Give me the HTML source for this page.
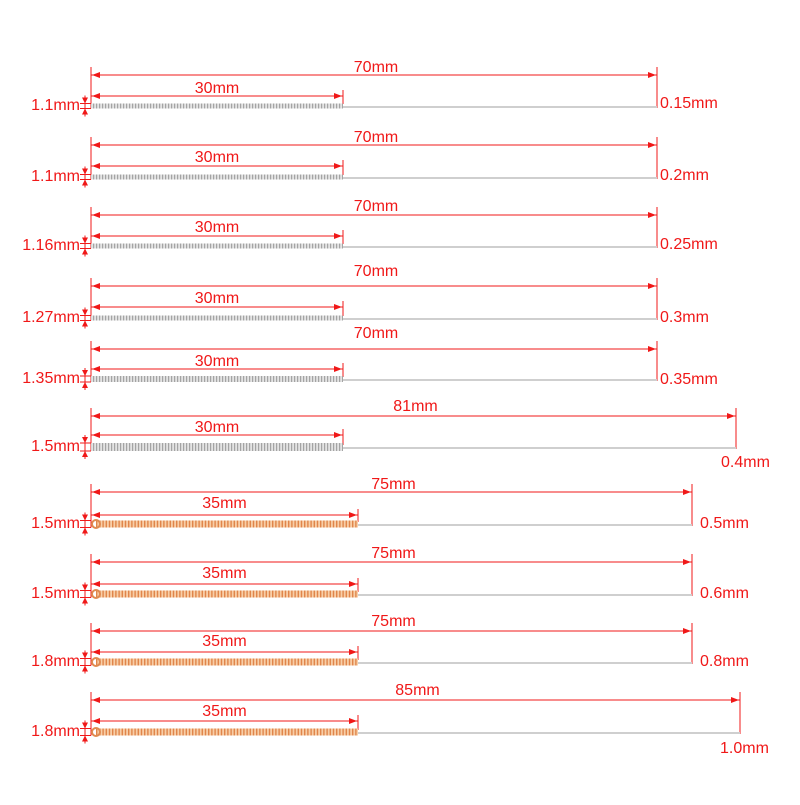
<!DOCTYPE html>
<html><head><meta charset="utf-8"><style>
html,body{margin:0;padding:0;background:#fff}
svg text{font-family:"Liberation Sans",sans-serif;font-size:16px;fill:#f01818}
</style></head><body>
<svg id="s" width="800" height="800" xmlns="http://www.w3.org/2000/svg">
<defs>
<pattern id="coil" width="3" height="10" patternUnits="userSpaceOnUse"><rect width="3" height="10" fill="#e4e4e4"/><rect width="1.2" height="10" fill="#a4a4a4"/></pattern>
<pattern id="coilo" width="3.2" height="10" patternUnits="userSpaceOnUse"><rect width="3.2" height="10" fill="#f8cfa8"/><rect width="1.4" height="10" fill="#e0854a"/></pattern>
</defs>
</svg>
<script>
var rows=[
[75,67,96,88,106,657,343,"70mm","30mm","1.1mm","0.15mm",660,104,5,0],
[145,137,166,157,177,657,343,"70mm","30mm","1.1mm","0.2mm",660,176,5,0],
[215,206,236,227,246,657,343,"70mm","30mm","1.16mm","0.25mm",660,245,5,0],
[286,271,307,298,318,657,343,"70mm","30mm","1.27mm","0.3mm",660,318,5,0],
[349,333,369,361,379,657,343,"70mm","30mm","1.35mm","0.35mm",660,380,6,0],
[416,406,435,427,447,736,343,"81mm","30mm","1.5mm","0.4mm",721,463,8,0],
[492,484,515,503,524,692,358,"75mm","35mm","1.5mm","0.5mm",700,524,7,1],
[562,553,584,573,594,692,358,"75mm","35mm","1.5mm","0.6mm",700,594,7,1],
[631,621,652,641,662,692,358,"75mm","35mm","1.8mm","0.8mm",700,662,7,1],
[700,690,721,711,732,740,358,"85mm","35mm","1.8mm","1.0mm",720,749,7,1]];
var h='';var R='#f01818';
function L(a,b,c,d,w){h+='<line x1="'+a+'" y1="'+b+'" x2="'+c+'" y2="'+d+'" stroke="'+(w||R)+'" stroke-width="1"/>';}
function arr(x,y,dir){h+='<polygon points="'+x+','+y+' '+(x+dir*8)+','+(y-3)+' '+(x+dir*8)+','+(y+3)+'" fill="'+R+'"/>';}
function T(x,y,t,a){h+='<text x="'+x+'" y="'+(y+5)+'" text-anchor="'+(a||'middle')+'">'+t+'</text>';}
rows.forEach(function(r){
 var ly=r[0],sy=r[2],ny=r[4],ex=r[5],hx=r[6],th=r[13];
 L(91,ly-8,91,ny+th/2);
 L(91,ly,ex,ly);arr(92,ly,1);arr(ex-1,ly,-1);
 L(ex,ly-8,ex,ny+2);
 L(91,sy,hx,sy);arr(92,sy,1);arr(hx-1,sy,-1);L(hx,sy-6,hx,ny-2);
 T((91+ex)/2+2,r[1],r[7]);T((91+hx)/2,r[3],r[8]);
 h+='<line x1="'+hx+'" y1="'+(ny+1)+'" x2="'+ex+'" y2="'+(ny+1)+'" stroke="#cfcfcf" stroke-width="2"/>';
 h+='<rect x="'+(r[14]?96:91)+'" y="'+(ny-th/2)+'" width="'+(hx-(r[14]?96:91))+'" height="'+th+'" fill="url(#'+(r[14]?'coilo':'coil')+')"/>';
 if(r[14])h+='<circle cx="96" cy="'+ny+'" r="4" fill="none" stroke="#e08a50" stroke-width="2"/>';
 L(85,ny-th/2-8,85,ny+th/2+8);
 h+='<polygon points="85,'+(ny-th/2)+' 82,'+(ny-th/2-6)+' 88,'+(ny-th/2-6)+'" fill="'+R+'"/>';
 h+='<polygon points="85,'+(ny+th/2)+' 82,'+(ny+th/2+6)+' 88,'+(ny+th/2+6)+'" fill="'+R+'"/>';
 L(80,ny-th/2,91,ny-th/2);L(80,ny+th/2,91,ny+th/2);
 T(80,ny-1,r[9],'end');T(r[11],r[12]-1,r[10],'start');
});
document.getElementById('s').insertAdjacentHTML('beforeend',h);
</script>
</body></html>
